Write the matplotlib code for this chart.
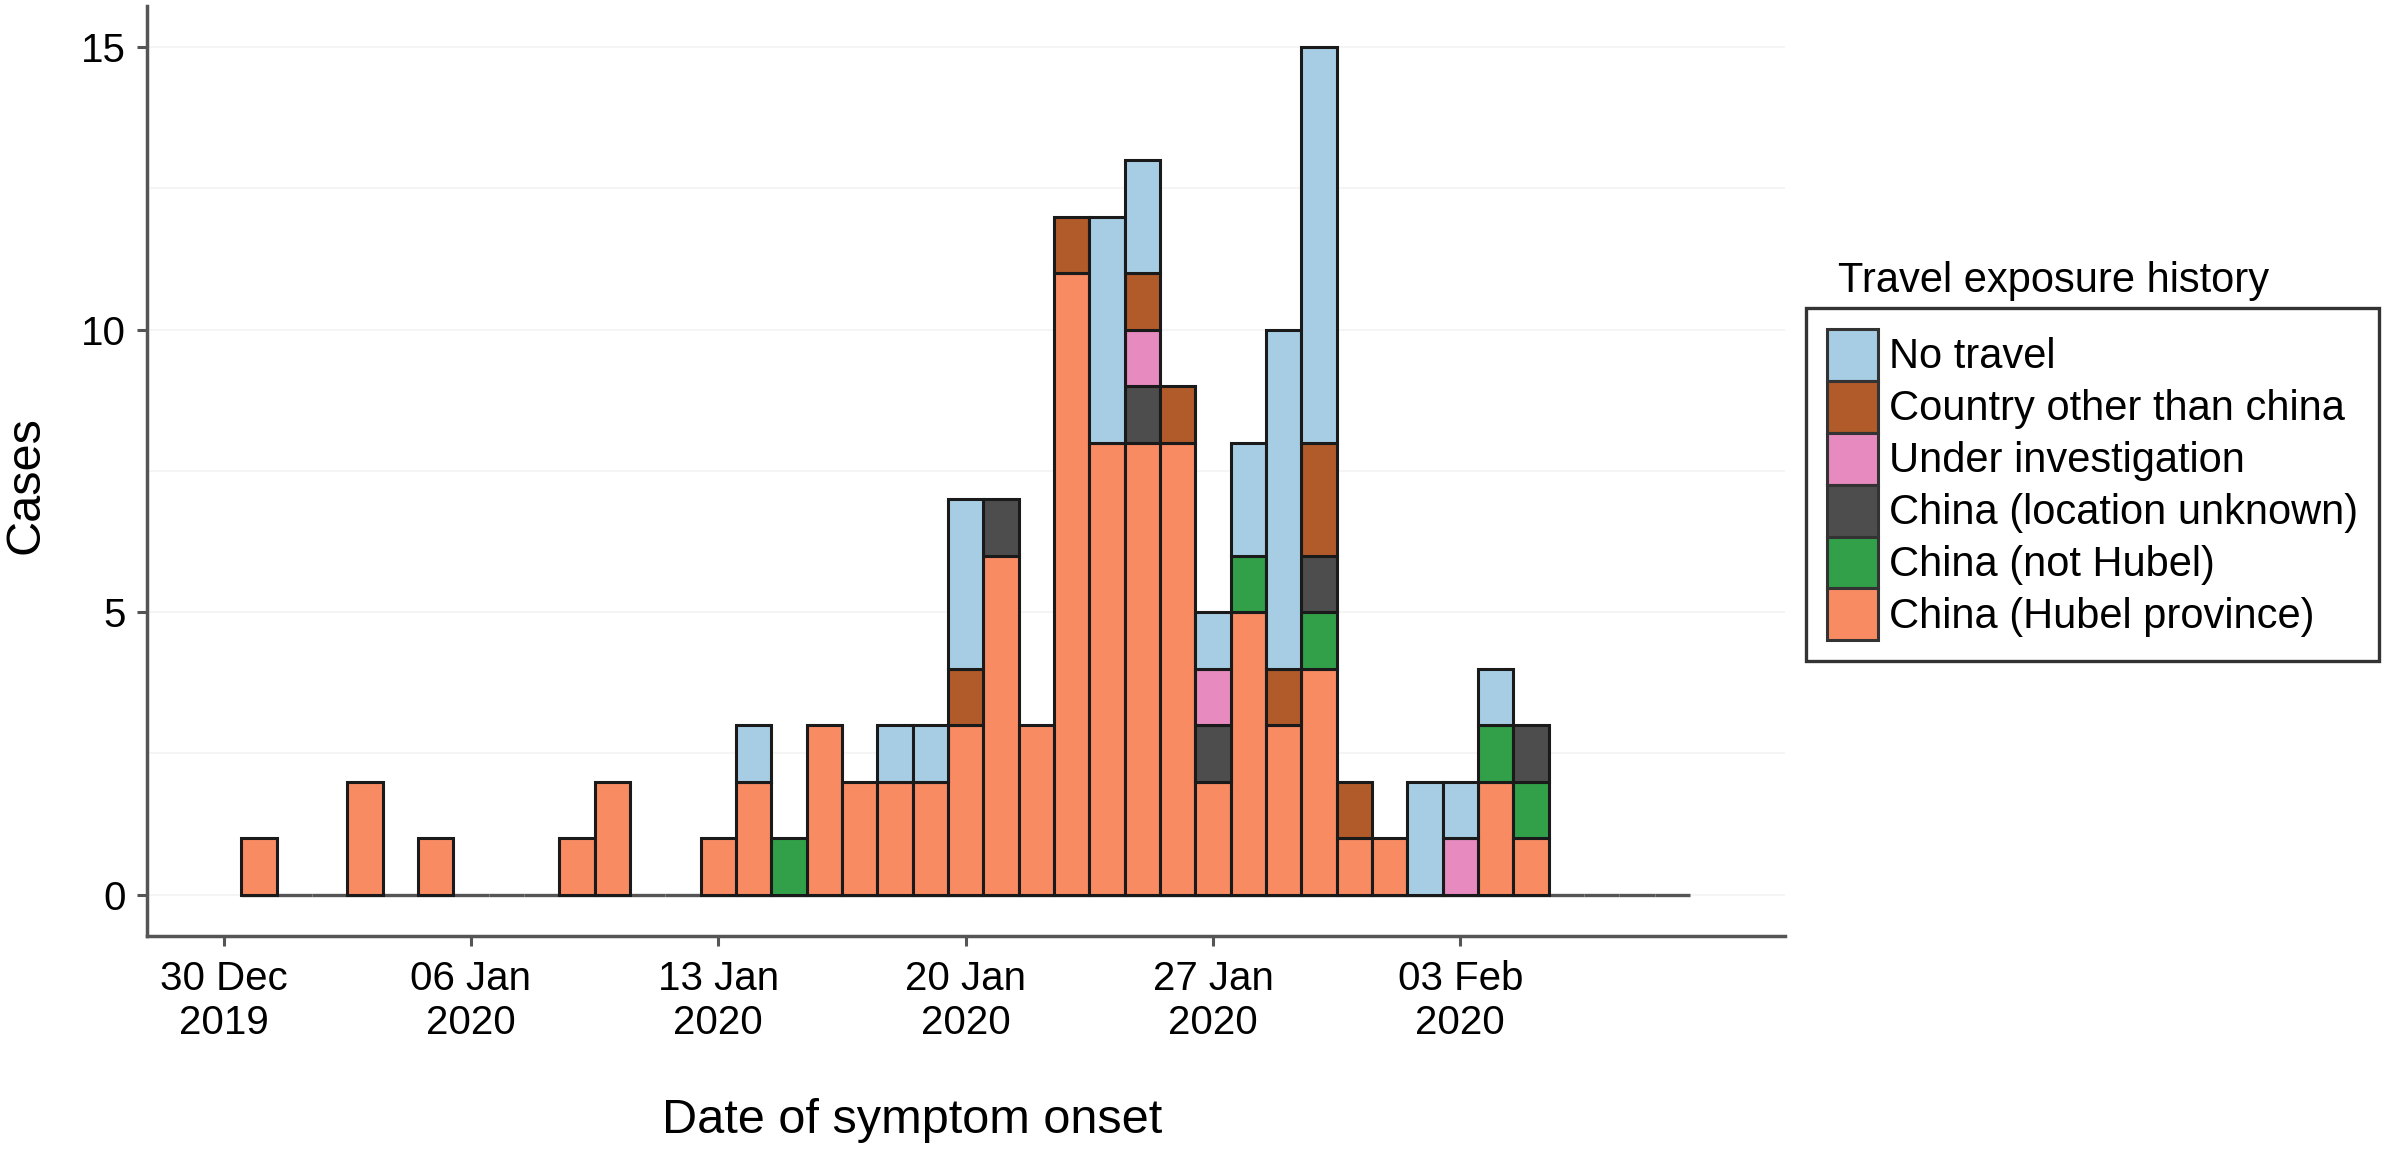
import matplotlib
matplotlib.use("Agg")
import matplotlib.pyplot as plt
import matplotlib.dates as mdates
from matplotlib.patches import Patch
import numpy as np
import pandas as pd

plt.rcParams['font.family'] = ['Liberation Sans', 'DejaVu Sans']

# one bin per day, 31 Dec 2019 .. 09 Feb 2020
dates = pd.date_range('2019-12-31', '2020-02-09', freq='D')

# counts per day for each exposure group (bottom of the stack first)
hubei = [1, 0, 0, 2, 0, 1, 0, 0, 0, 1, 2, 0, 0, 1, 2, 0, 3, 2, 2, 2,
         3, 6, 3, 11, 8, 8, 8, 2, 5, 3, 4, 1, 1, 0, 0, 2, 1, 0, 0, 0, 0]
not_hubei = [0, 0, 0, 0, 0, 0, 0, 0, 0, 0, 0, 0, 0, 0, 0, 1, 0, 0, 0, 0,
             0, 0, 0, 0, 0, 0, 0, 0, 1, 0, 1, 0, 0, 0, 0, 1, 1, 0, 0, 0, 0]
loc_unknown = [0, 0, 0, 0, 0, 0, 0, 0, 0, 0, 0, 0, 0, 0, 0, 0, 0, 0, 0, 0,
               0, 1, 0, 0, 0, 1, 0, 1, 0, 0, 1, 0, 0, 0, 0, 0, 1, 0, 0, 0, 0]
investigation = [0, 0, 0, 0, 0, 0, 0, 0, 0, 0, 0, 0, 0, 0, 0, 0, 0, 0, 0, 0,
                 0, 0, 0, 0, 0, 1, 0, 1, 0, 0, 0, 0, 0, 0, 1, 0, 0, 0, 0, 0, 0]
other_country = [0, 0, 0, 0, 0, 0, 0, 0, 0, 0, 0, 0, 0, 0, 0, 0, 0, 0, 0, 0,
                 1, 0, 0, 1, 0, 1, 1, 0, 0, 1, 2, 1, 0, 0, 0, 0, 0, 0, 0, 0, 0]
no_travel = [0, 0, 0, 0, 0, 0, 0, 0, 0, 0, 0, 0, 0, 0, 1, 0, 0, 0, 1, 1,
             3, 0, 0, 0, 4, 2, 0, 1, 2, 6, 7, 0, 0, 2, 1, 1, 0, 0, 0, 0, 0]

labels = ["No travel", "Country other than china", "Under investigation",
          "China (location unknown)", "China (not Hubel)", "China (Hubel province)"]
colors = ["#a6cde3", "#b15a2a", "#e68abf", "#4d4d4d", "#31a049", "#f88b62"]

tick_dates = pd.to_datetime(['2019-12-30', '2020-01-06', '2020-01-13',
                             '2020-01-20', '2020-01-27', '2020-02-03'])

fig = plt.figure(figsize=(24.03, 11.56), dpi=100)
ax = fig.add_axes([0.0611, 0.19, 0.6819, 0.805])

x = mdates.date2num(dates)
stack = [hubei, not_hubei, loc_unknown, investigation, other_country, no_travel]
stack_colors = colors[::-1]

# zero line drawn by the empty bins
ax.bar(x, np.zeros(len(x)), width=1.0, bottom=0, facecolor='none',
       edgecolor='#555555', linewidth=2.4, zorder=2)

bottom = np.zeros(len(x))
for vals, col in zip(stack, stack_colors):
    vals = np.array(vals)
    m = vals > 0
    ax.bar(x[m], vals[m], width=1.0, bottom=bottom[m], facecolor=col,
           edgecolor='#1a1a1a', linewidth=2.2, zorder=3)
    bottom = bottom + vals

x0 = mdates.date2num(pd.Timestamp('2019-12-30'))
ax.set_xlim(x0 - 2.17, x0 + 44.2)
ax.set_ylim(-0.74, 15.73)

ax.set_xticks(mdates.date2num(tick_dates))
ax.set_xticklabels([d.strftime('%d %b\n%Y') for d in tick_dates],
                   linespacing=1.2)
ax.set_yticks([0, 5, 10, 15])
ax.set_yticks([2.5, 7.5, 12.5], minor=True)
ax.tick_params(axis='both', labelsize=29, length=7, width=2.2,
               color='#555555')
ax.tick_params(axis='x', pad=10)
ax.tick_params(axis='y', pad=8)
ax.tick_params(axis='y', which='minor', length=0)

for s in ['top', 'right']:
    ax.spines[s].set_visible(False)
for s in ['left', 'bottom']:
    ax.spines[s].set_color('#555555')
    ax.spines[s].set_linewidth(2.5)

ax.grid(axis='y', which='both', color='#f3f3f3', linewidth=1.2, zorder=0)
ax.set_axisbelow(True)

fig.text(0.011, 0.58, "Cases", rotation=90, fontsize=35,
         ha='center', va='center')
fig.text(0.3796, 1 - 1133 / 1156, "Date of symptom onset", fontsize=35,
         ha='center', va='baseline')

handles = [Patch(facecolor=c, edgecolor='#333333', linewidth=2.2) for c in colors]
fig.text(0.7649, 1 - 292 / 1156, "Travel exposure history", fontsize=30,
         ha='left', va='baseline')
leg = fig.legend(handles, labels, loc='upper left',
                 bbox_to_anchor=(0.7516, 1 - 308 / 1156), borderaxespad=0,
                 fontsize=30, frameon=True, fancybox=False,
                 handlelength=1.22, handleheight=1.54, labelspacing=0,
                 handletextpad=0.27, borderpad=0.5)
leg.get_frame().set_edgecolor('black')
leg.get_frame().set_linewidth(2.4)

fig.savefig('out.png', dpi=100)
